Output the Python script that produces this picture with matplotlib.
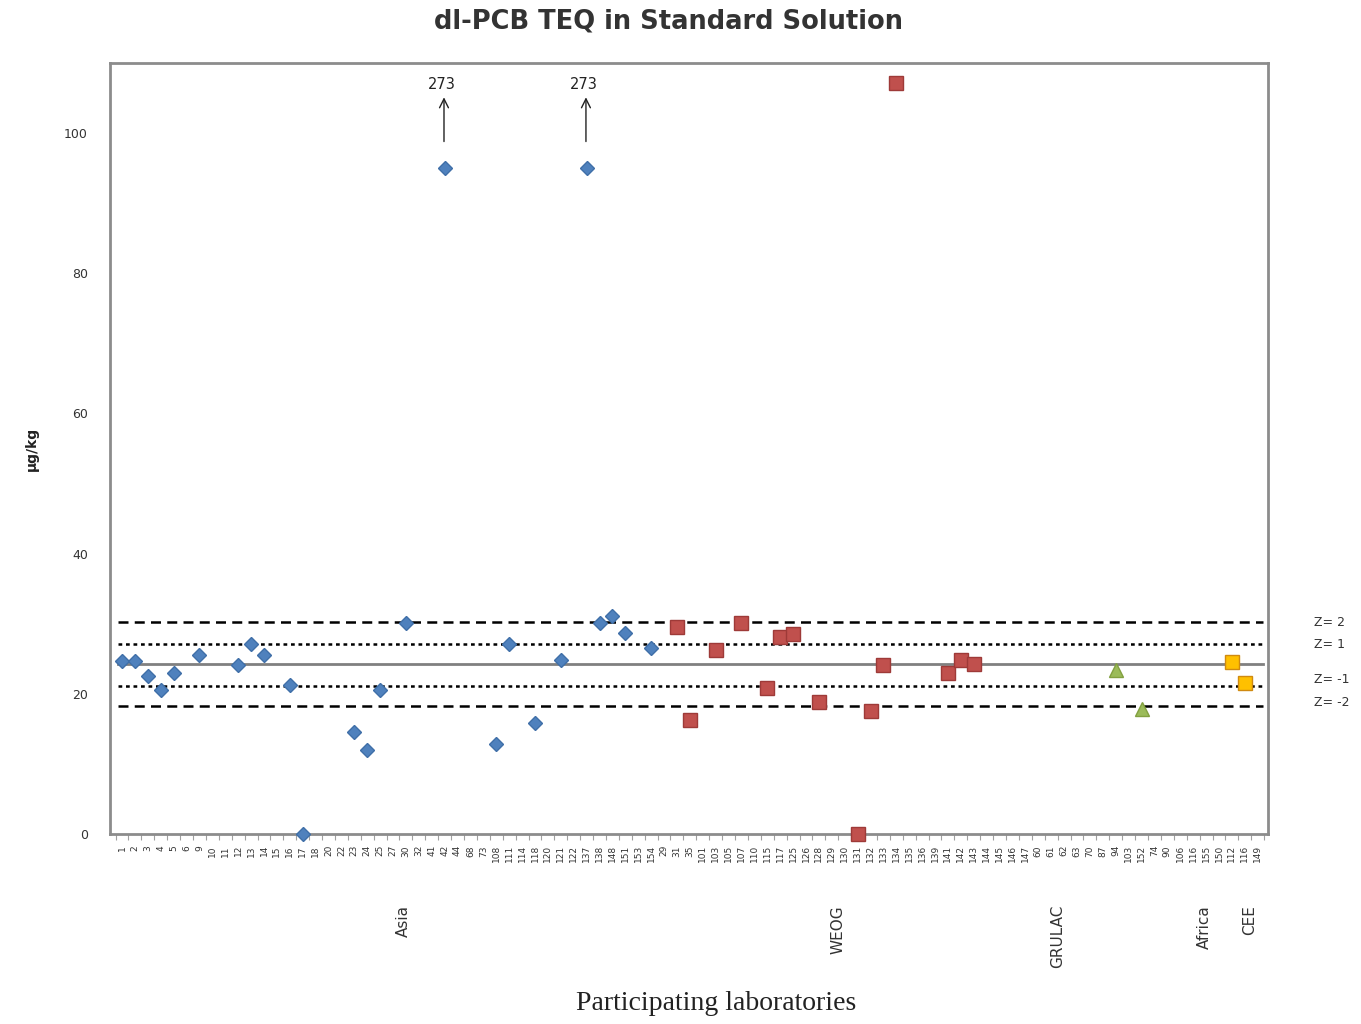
import numpy as np
import matplotlib
matplotlib.use("Agg")
import matplotlib.pyplot as plt
from matplotlib.ticker import FixedLocator

# ---------------- data ----------------
asia_labels = ["1", "2", "3", "4", "5", "6", "9", "10", "11", "12", "13", "14", "15", "16",
               "17", "18", "20", "22", "23", "24", "25", "27", "30", "32", "41", "42", "44",
               "68", "73", "108", "111", "114", "118", "120", "121", "122", "137", "138",
               "148", "151", "153", "154"]
asia_values = [24.7, 24.7, 22.5, 20.6, 22.9, None, 25.6, None, None, 24.1, 27.1, 25.6,
               None, 21.3, 0.0, None, None, None, 14.6, 12.0, 20.6, None, 30.1, None,
               None, 273, None, None, None, 12.9, 27.1, None, 15.8, None, 24.8, None,
               273, 30.1, 31.1, 28.7, None, 26.5]

weog_labels = ["29", "31", "35", "101", "103", "105", "107", "110", "115", "117", "125",
               "126", "128", "129", "130", "131", "132", "133", "134", "135", "136", "139",
               "141", "142", "143", "144", "145", "146", "147"]
weog_values = [None, 29.5, 16.2, None, 26.2, None, 30.1, None, 20.9, 28.1, 28.5, None,
               18.9, None, None, 0.0, 17.6, 24.1, 107.2, None, None, None, 22.9, 24.8,
               24.2, None, None, None, None]

grulac_labels = ["60", "61", "62", "63", "70", "87", "94", "103", "152"]
grulac_values = [None, None, None, None, None, None, 23.4, None, 17.9]

africa_labels = ["74", "90", "106", "116", "155", "150"]
africa_values = [None, None, None, None, None, None]

cee_labels = ["112", "116", "149"]
cee_values = [24.6, 21.6, None]

group_names = ["Asia", "WEOG", "GRULAC", "Africa", "CEE"]

assigned_value = 24.2
z_scores = [2, 1, -1, -2]
z_limits = [30.2, 27.1, 21.1, 18.2]

# ---------------- layout / style ----------------
Y_MAX = 110
OFFSCALE_Y = 95           # where off-scale results are drawn
group_label_pos = [21.8, 55.5, 72.5, 83.9, 87.4]

plt.rcParams['font.family'] = ['DejaVu Sans']
fig = plt.figure(figsize=(13.61, 10.24), dpi=100)
ax = fig.add_axes([110/1361, 1 - 834/1024, (1268-110)/1361, (834-63)/1024])

labels = asia_labels + weog_labels + grulac_labels + africa_labels + cee_labels
n = len(labels)
x_all = np.arange(n)

series = [
    (asia_values, 0, dict(marker='D', color='#4F81BD', mec='#3F6FA8', ms=7.5)),
    (weog_values, len(asia_labels), dict(marker='s', color='#C0504D', mec='#9E3A38', ms=10)),
    (grulac_values, len(asia_labels) + len(weog_labels),
     dict(marker='^', color='#9BBB59', mec='#82A040', ms=10)),
    (africa_values, len(asia_labels) + len(weog_labels) + len(grulac_labels),
     dict(marker='o', color='#8064A2', mec='#6A5088', ms=8)),
    (cee_values, len(asia_labels) + len(weog_labels) + len(grulac_labels) + len(africa_labels),
     dict(marker='s', color='#FFC000', mec='#D08A10', ms=10)),
]

for vals, start, st in series:
    xs, ys = [], []
    for k, v in enumerate(vals):
        if v is None:
            continue
        xx = start + k
        if v > Y_MAX:
            yy = OFFSCALE_Y
            ax.annotate("", xy=(xx - 0.05, 105.5), xytext=(xx - 0.05, 98.4),
                        arrowprops=dict(arrowstyle='->', color='#222222', lw=1.0,
                                        mutation_scale=16))
            ax.text(xx - 0.25, 106.9, f"{v:g}", ha='center', va='center', fontsize=10.5,
                    color='#222222')
        else:
            yy = v
        xs.append(xx)
        ys.append(yy)
    ax.plot(xs, ys, linestyle='none', mew=1.0, zorder=5, clip_on=False, **st)

x0, x1 = -0.3, n - 0.6
ax.plot([x0, x1], [assigned_value] * 2, color='#808080', lw=2, zorder=2)
for z, val in zip(z_scores, z_limits):
    if abs(z) == 2:
        ls = (0, (4, 2.5))
    else:
        ls = (0, (1.5, 1.5))
    ax.plot([x0, x1], [val] * 2, color='black', lw=1.8, linestyle=ls, zorder=2)

label_y = {2: 30.2, 1: 27.1, -1: 22.0, -2: 18.8}
for z, val in zip(z_scores, z_limits):
    ax.text(1.040, label_y[z], f"Z= {z}", transform=ax.get_yaxis_transform(),
            ha='left', va='center', fontsize=9, color='#333333')

ax.set_xlim(-0.93, n - 0.2)
ax.set_ylim(0, Y_MAX)
ax.set_yticks(np.arange(0, 101, 20))
ax.tick_params(axis='y', labelsize=9, length=0, pad=16, labelcolor='#333333')

ax.xaxis.set_major_locator(FixedLocator(np.arange(n + 1) - 0.5))
ax.xaxis.set_major_formatter(plt.NullFormatter())
ax.xaxis.set_minor_locator(FixedLocator(x_all))
ax.set_xticklabels(labels, minor=True, rotation=90, fontsize=6.5, color='#333333')
ax.tick_params(axis='x', which='major', length=4, color='#A0A0A0', direction='out')
ax.tick_params(axis='x', which='minor', length=0, pad=8)

for s in ax.spines.values():
    s.set_color('#8C8C8C')
    s.set_linewidth(2)

trans = ax.get_xaxis_transform()
for name, pos in zip(group_names, group_label_pos):
    ax.text(pos, -0.092, name, transform=trans, rotation=90, ha='center', va='top',
            fontsize=11, color='#333333')

ax.set_ylabel("µg/kg", fontsize=10, fontweight='bold', labelpad=18, color='#222222')
fig.text(716/1361, 1 - 1003/1024, "Participating laboratories", ha='center', va='center',
         fontsize=20, family='Liberation Serif', color='#222222')
fig.text(668/1361, 1 - 22/1024, "dl-PCB TEQ in Standard Solution", ha='center', va='center',
         fontsize=18.5, fontweight='bold', color='#333333')

fig.savefig("out.png", dpi=100)
